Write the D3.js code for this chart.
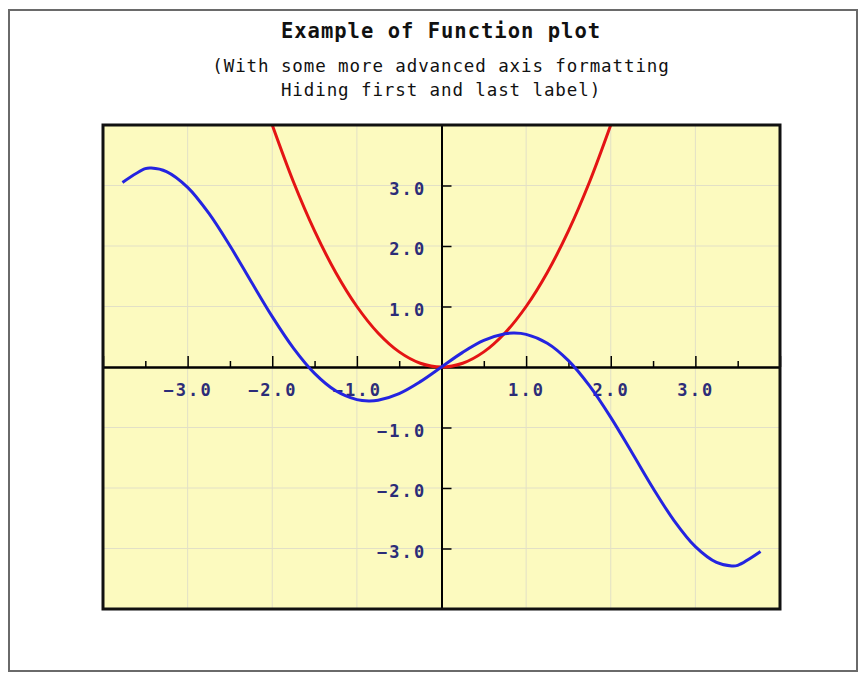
<!DOCTYPE html>
<html>
<head>
<meta charset="utf-8">
<script src="https://cdn.jsdelivr.net/npm/d3@7"></script>
<style>
  html, body { margin: 0; padding: 0; background: #ffffff; }
  svg { display: block; }
  .tick text { font-family: "DejaVu Sans Mono", monospace; font-weight: bold; }
</style>
</head>
<body>
<svg id="chart" width="860" height="674"></svg>
<script>
// ---- Data ----
const titleText = "Example of Function plot";
const subtitleLines = ["(With some more advanced axis formatting", "Hiding first and last label)"];

// Blue curve samples
const blueX = [-3.77, -3.5, -3.43, -3.25, -3.0, -2.75, -2.5, -2.25, -2.0, -1.75, -1.5, -1.25, -1.0, -0.86, -0.75, -0.5, -0.25, 0.0,
               0.25, 0.5, 0.75, 0.86, 1.0, 1.25, 1.5, 1.75, 2.0, 2.25, 2.5, 2.75, 3.0, 3.25, 3.43, 3.5, 3.77];
const blueY = [3.05, 3.278, 3.288, 3.231, 2.97, 2.542, 2.003, 1.413, 0.832, 0.312, -0.106, -0.394, -0.54, -0.561, -0.549, -0.439, -0.242, 0.0,
               0.242, 0.439, 0.549, 0.561, 0.54, 0.394, 0.106, -0.312, -0.832, -1.413, -2.003, -2.542, -2.97, -3.231, -3.288, -3.278, -3.05];

// Red curve samples
const redX = [-2.0, -1.75, -1.5, -1.25, -1.0, -0.75, -0.5, -0.25, 0.0, 0.25, 0.5, 0.75, 1.0, 1.25, 1.5, 1.75, 2.0];
const redY = [4.0, 3.0625, 2.25, 1.5625, 1.0, 0.5625, 0.25, 0.0625, 0.0, 0.0625, 0.25, 0.5625, 1.0, 1.5625, 2.25, 3.0625, 4.0];

// Axes
const xDomain = [-4, 4];
const yDomain = [-4, 4];
const xMajorTicks = [-4, -3, -2, -1, 0, 1, 2, 3, 4];
const xMinorTicks = [-3.5, -2.5, -1.5, -0.5, 0.5, 1.5, 2.5, 3.5];
const xTickLabels = [-3, -2, -1, 1, 2, 3];
const yMajorTicks = [-3, -2, -1, 1, 2, 3];
const yTickLabels = [-3, -2, -1, 1, 2, 3];
const gridX = [-3, -2, -1, 1, 2, 3];
const gridY = [-3, -2, -1, 1, 2, 3];

// ---- Layout ----
const svg = d3.select("#chart");
const plot = { left: 103, top: 125, right: 780, bottom: 609 };

const x = d3.scaleLinear().domain(xDomain).range([plot.left, plot.right]);
const y = d3.scaleLinear().domain(yDomain).range([plot.bottom, plot.top]);

// outer frame
svg.append("rect")
  .attr("x", 9).attr("y", 10).attr("width", 848).attr("height", 661)
  .attr("fill", "#ffffff").attr("stroke", "#6a6a6a").attr("stroke-width", 2);

// plot background
svg.append("rect")
  .attr("x", plot.left).attr("y", plot.top)
  .attr("width", plot.right - plot.left).attr("height", plot.bottom - plot.top)
  .attr("fill", "#fcfabf");

// grid
const grid = svg.append("g").attr("stroke", "#e2e0c6").attr("stroke-width", 1);
grid.selectAll("line.gx").data(gridX).join("line")
  .attr("x1", d => x(d)).attr("x2", d => x(d))
  .attr("y1", plot.top).attr("y2", plot.bottom);
grid.selectAll("line.gy").data(gridY).join("line")
  .attr("y1", d => y(d)).attr("y2", d => y(d))
  .attr("x1", plot.left).attr("x2", plot.right);

// clip
svg.append("clipPath").attr("id", "clip")
  .append("rect").attr("x", plot.left).attr("y", plot.top)
  .attr("width", plot.right - plot.left).attr("height", plot.bottom - plot.top);

const labelColor = "#2c2c78";
const fmt = d3.format(".1f");

// X axis (at y = 0)
const y0 = y(0);
const xAxisMinor = d3.axisBottom(x).tickValues(xMinorTicks).tickSizeInner(-6).tickSizeOuter(0).tickFormat("");
const xAxisMajor = d3.axisBottom(x).tickValues(xMajorTicks).tickSizeInner(-11).tickSizeOuter(0).tickFormat("");
const xAxisLabels = d3.axisBottom(x).tickValues(xTickLabels).tickSize(0).tickPadding(17).tickFormat(fmt);

function styleAxis(g) {
  g.select(".domain").attr("stroke", "#000").attr("stroke-width", 2);
  g.selectAll(".tick line").attr("stroke", "#000").attr("stroke-width", 1.5);
}

svg.append("g").attr("transform", `translate(0,${y0})`).call(xAxisMinor).call(styleAxis);
svg.append("g").attr("transform", `translate(0,${y0})`).call(xAxisMajor).call(styleAxis);
const xl = svg.append("g").attr("transform", `translate(0,${y0})`).call(xAxisLabels);
xl.select(".domain").remove();
xl.selectAll(".tick text").attr("fill", labelColor).attr("font-size", 17).attr("letter-spacing", 2.2)
  .attr("font-family", "DejaVu Sans Mono, monospace").attr("font-weight", "bold");

// Y axis (at x = 0)
const x0 = x(0);
const yAxisMajor = d3.axisLeft(y).tickValues(yMajorTicks).tickSizeInner(-10).tickSizeOuter(0).tickFormat("");
const yAxisLabels = d3.axisLeft(y).tickValues(yTickLabels).tickSize(0).tickPadding(15).tickFormat(fmt);
svg.append("g").attr("transform", `translate(${x0},0)`).call(yAxisMajor).call(styleAxis);
const yl = svg.append("g").attr("transform", `translate(${x0},0)`).call(yAxisLabels);
yl.select(".domain").remove();
yl.selectAll(".tick text").attr("fill", labelColor).attr("font-size", 17).attr("letter-spacing", 2.2)
  .attr("font-family", "DejaVu Sans Mono, monospace").attr("font-weight", "bold")
  .attr("dy", "0.5em");

// curves
const lineGen = d3.line().x(d => x(d[0])).y(d => y(d[1])).curve(d3.curveCatmullRom);
const redData = redX.map((v, i) => [v, redY[i]]);
const blueData = blueX.map((v, i) => [v, blueY[i]]);

const curves = svg.append("g").attr("clip-path", "url(#clip)");
curves.append("path").datum(redData).attr("d", lineGen)
  .attr("fill", "none").attr("stroke", "#e41414").attr("stroke-width", 3).attr("stroke-linejoin", "round");
curves.append("path").datum(blueData).attr("d", lineGen)
  .attr("fill", "none").attr("stroke", "#2424e0").attr("stroke-width", 3).attr("stroke-linejoin", "round");

// plot border
svg.append("rect")
  .attr("x", plot.left).attr("y", plot.top)
  .attr("width", plot.right - plot.left).attr("height", plot.bottom - plot.top)
  .attr("fill", "none").attr("stroke", "#111").attr("stroke-width", 3);

// titles
svg.append("text").attr("x", 441).attr("y", 38).attr("text-anchor", "middle")
  .attr("font-family", "DejaVu Sans Mono, monospace").attr("font-weight", "bold")
  .attr("font-size", 20.5).attr("letter-spacing", 1.0).attr("fill", "#111")
  .text(titleText);
svg.append("g").selectAll("text").data(subtitleLines).join("text")
  .attr("x", 441).attr("y", (d, i) => 72 + i * 24).attr("text-anchor", "middle")
  .attr("font-family", "DejaVu Sans Mono, monospace")
  .attr("font-size", 17.5).attr("letter-spacing", 0.9).attr("fill", "#111")
  .text(d => d);
</script>
</body>
</html>
